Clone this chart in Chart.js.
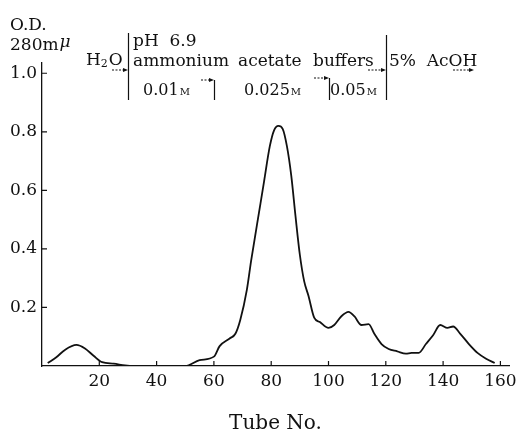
<!DOCTYPE html>
<html lang="en">
<head>
    <meta charset="UTF-8">
    <title>Elution Profile O.D. 280mμ</title>
    <script src="https://cdn.jsdelivr.net/npm/chart.js"></script>
    <style>
        body { margin: 0; background: #fff; }
        #wrap { width: 526px; height: 436px; }
    </style>
</head>
<body>
    <div id="wrap"><canvas id="odChart"></canvas></div>

    <script>
        // Values
        const tubeNo = [2, 5, 8, 12, 15, 18, 21, 25, 29, 32, 50, 55, 60, 62, 65.5, 67.5, 69.2, 71.5, 73, 75, 77.5, 79.5, 81, 82.5, 84, 85.5, 87, 88.5, 90, 91.5, 93, 95, 97, 100, 102, 104.5, 107, 109, 111.5, 114, 116, 118.5, 121, 124, 127, 129, 131.5, 134, 136.5, 139, 141.5, 143.5, 146, 149, 152, 155, 158];
        const odValues = [0.01, 0.03, 0.055, 0.072, 0.06, 0.035, 0.013, 0.008, 0.002, 0, 0, 0.02, 0.032, 0.068, 0.094, 0.11, 0.157, 0.26, 0.36, 0.48, 0.63, 0.75, 0.805, 0.82, 0.81, 0.75, 0.65, 0.51, 0.38, 0.29, 0.24, 0.165, 0.15, 0.13, 0.14, 0.17, 0.185, 0.17, 0.14, 0.143, 0.11, 0.075, 0.058, 0.05, 0.042, 0.045, 0.045, 0.075, 0.105, 0.14, 0.13, 0.135, 0.11, 0.075, 0.045, 0.025, 0.01];
        const xTicks = [20, 40, 60, 80, 100, 120, 140, 160];
        const yTicks = [0.2, 0.4, 0.6, 0.8, 1.0];
        // tubes where the eluting solvent changes
        const bufferSteps = [30, 60, 100, 120];

        const serif = '"DejaVu Serif", serif';

        function arrow(ctx, x1, x2, y) {
            ctx.save();
            ctx.setLineDash([2, 1.5]);
            ctx.beginPath();
            ctx.moveTo(x1, y);
            ctx.lineTo(x2 - 3, y);
            ctx.stroke();
            ctx.setLineDash([]);
            ctx.beginPath();
            ctx.moveTo(x2, y);
            ctx.lineTo(x2 - 5, y - 2);
            ctx.lineTo(x2 - 5, y + 2);
            ctx.closePath();
            ctx.fill();
            ctx.restore();
        }

        function molar(ctx, num, x, y) {
            ctx.font = '16px ' + serif;
            ctx.fillText(num, x, y);
            const w = ctx.measureText(num).width;
            ctx.font = '10px ' + serif;
            ctx.fillText('M', x + w + 1, y);
        }

        const annotations = {
            id: 'annotations',
            afterDraw(chart) {
                const ctx = chart.ctx;
                const x = chart.scales.x;
                const y = chart.scales.y;
                const area = chart.chartArea;
                ctx.save();
                ctx.fillStyle = '#111';
                ctx.strokeStyle = '#111';
                ctx.lineWidth = 1.2;

                // inner tick marks
                ctx.beginPath();
                yTicks.forEach(v => {
                    const py = y.getPixelForValue(v);
                    ctx.moveTo(area.left, py);
                    ctx.lineTo(area.left + 5, py);
                });
                xTicks.forEach(v => {
                    const px = x.getPixelForValue(v);
                    ctx.moveTo(px, area.bottom);
                    ctx.lineTo(px, area.bottom - 5);
                });
                ctx.stroke();

                // axis label
                ctx.textBaseline = 'alphabetic';
                ctx.textAlign = 'left';
                ctx.font = '17px ' + serif;
                ctx.fillText('O.D.', 10, 30);
                ctx.fillText('280m', 10, 50);
                ctx.font = 'italic 17px ' + serif;
                ctx.fillText('μ', 10 + ctx.measureText('280m').width + 1, 47);

                // solvent labels
                ctx.font = '17px ' + serif;
                ctx.fillText('H', 86, 65);
                let hw = ctx.measureText('H').width;
                ctx.font = '11px ' + serif;
                ctx.fillText('2', 86 + hw, 67);
                ctx.font = '17px ' + serif;
                ctx.fillText('O', 86 + hw + 8, 65);

                ctx.fillText('pH  6.9', 133, 46);
                ctx.fillText('ammonium', 133, 66);
                ctx.fillText('acetate', 238, 66);
                ctx.fillText('buffers', 313, 66);
                ctx.fillText('5%  AcOH', 389, 66);

                molar(ctx, '0.01', 143, 95);
                molar(ctx, '0.025', 244, 95);
                molar(ctx, '0.05', 330, 95);

                // dividers between eluents
                const tops = [33, 80, 78, 35];
                ctx.beginPath();
                bufferSteps.forEach((t, i) => {
                    const px = Math.round(x.getPixelForValue(t)) + 0.5;
                    ctx.moveTo(px, tops[i]);
                    ctx.lineTo(px, 100);
                });
                ctx.stroke();

                const d = bufferSteps.map(t => Math.round(x.getPixelForValue(t)));
                arrow(ctx, d[0] - 16, d[0], 70);
                arrow(ctx, d[1] - 13, d[1], 80);
                arrow(ctx, d[2] - 15, d[2], 78);
                arrow(ctx, d[3] - 18, d[3], 70);
                arrow(ctx, 453, 474, 70);

                ctx.restore();
            }
        };

        const points = tubeNo.map((t, i) => ({ x: t, y: odValues[i] }));

        const ctx = document.getElementById('odChart').getContext('2d');
        const chart = new Chart(ctx, {
            type: 'line',
            data: {
                datasets: [{
                    data: points,
                    borderColor: '#111',
                    borderWidth: 1.8,
                    pointRadius: 0,
                    fill: false,
                    cubicInterpolationMode: 'monotone'
                }]
            },
            options: {
                responsive: true,
                maintainAspectRatio: false,
                animation: false,
                layout: { padding: { top: 63, right: 17, bottom: 0, left: 0 } },
                plugins: {
                    legend: { display: false },
                    tooltip: { enabled: false }
                },
                scales: {
                    x: {
                        type: 'linear',
                        min: 0,
                        max: 163,
                        afterBuildTicks: s => { s.ticks = xTicks.map(v => ({ value: v })); },
                        afterFit: s => { s.height = 70; },
                        grid: { drawOnChartArea: false, drawTicks: false },
                        border: { color: '#111', width: 1.3 },
                        ticks: {
                            color: '#111',
                            padding: 5,
                            maxRotation: 0,
                            font: { family: serif, size: 17 }
                        },
                        title: {
                            display: true,
                            text: 'Tube No.',
                            color: '#111',
                            padding: { top: 22, bottom: 0 },
                            font: { family: serif, size: 20 }
                        }
                    },
                    y: {
                        min: 0,
                        max: 1.035,
                        afterBuildTicks: s => { s.ticks = yTicks.map(v => ({ value: v })); },
                        afterFit: s => { s.width = 42; },
                        grid: { drawOnChartArea: false, drawTicks: false },
                        border: { color: '#111', width: 1.3 },
                        ticks: {
                            color: '#111',
                            padding: 5,
                            font: { family: serif, size: 17 },
                            callback: v => v.toFixed(1)
                        }
                    }
                }
            },
            plugins: [annotations]
        });
    </script>
</body>
</html>
